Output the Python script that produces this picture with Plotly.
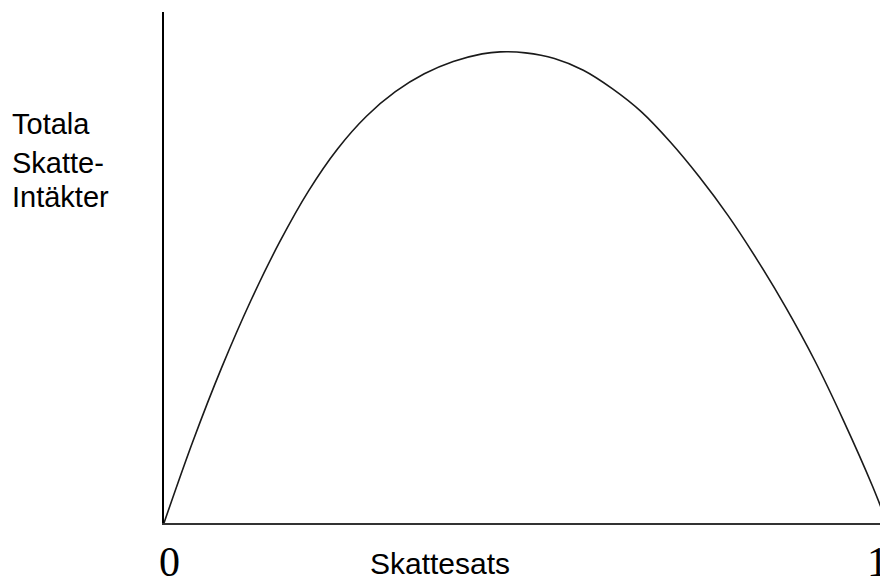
import plotly.graph_objects as go

# Skattesats (tax rate, 0..1) and total tax revenue (relative units, axis top = 100)
tax_rate = [0.0, 0.04, 0.08, 0.12, 0.16, 0.20, 0.24, 0.28, 0.32, 0.36, 0.40, 0.44,
            0.465, 0.50, 0.54, 0.58, 0.62, 0.66, 0.70, 0.74, 0.78, 0.82, 0.86,
            0.90, 0.94, 0.98, 1.0]
revenue = [0.0, 16.0, 30.5, 43.5, 55.0, 65.0, 73.2, 79.6, 84.4, 87.9, 90.3, 91.8,
           92.2, 92.0, 90.9, 88.6, 85.0, 80.5, 74.6, 67.8, 60.2, 51.6, 42.2,
           31.8, 20.0, 7.2, 0.0]

x_label = "Skattesats"
y_label_lines = ["Totala", "Skatte-", "Intäkter"]
x_tick_labels = ["0", "1"]

# the page body adds an 8px offset; target absolute plot box: x 164..887, y 12..523
OFF = 8
PL, PR, PT, PB = 164, 887, 12, 523
W, H = 880, 577
L = PL - OFF
T = PT - OFF
R = W - (PR - OFF)
B = H - (PB - OFF)
pw, ph = PR - PL, PB - PT

def px_x(px):
    return (px - PL) / pw

def px_y(py):
    return (PB - py) / ph

fig = go.Figure()
fig.add_trace(go.Scatter(x=tax_rate, y=revenue, mode="lines", line_shape="spline",
                         line=dict(color="#1a1a1a", width=1.6),
                         hoverinfo="skip", showlegend=False, cliponaxis=False))

annotations = []
annotations.append(dict(text=x_tick_labels[0], xref="paper", yref="paper",
                        x=px_x(169), y=px_y(562), xanchor="center", yanchor="middle",
                        showarrow=False, font=dict(family="Liberation Serif", size=42, color="black")))
annotations.append(dict(text=x_tick_labels[1], xref="paper", yref="paper",
                        x=px_x(877), y=px_y(562), xanchor="center", yanchor="middle",
                        showarrow=False, font=dict(family="Liberation Serif", size=42, color="black")))
annotations.append(dict(text=x_label, xref="paper", yref="paper",
                        x=px_x(440), y=px_y(563), xanchor="center", yanchor="middle",
                        showarrow=False, font=dict(family="Liberation Sans", size=30, color="black")))
for line, cy in zip(y_label_lines, [124, 163, 197]):
    annotations.append(dict(text=line, xref="paper", yref="paper",
                            x=px_x(10), y=px_y(cy), xanchor="left", yanchor="middle",
                            showarrow=False, font=dict(family="Liberation Sans", size=29, color="black")))

fig.update_layout(
    width=W, height=H,
    margin=dict(l=L, r=R, t=T, b=B, pad=0),
    paper_bgcolor="white", plot_bgcolor="white",
    xaxis=dict(range=[0, 1], showgrid=False, zeroline=False, showticklabels=False,
               ticks="", showline=True, linecolor="#333333", linewidth=2, fixedrange=True),
    yaxis=dict(range=[0, 100], showgrid=False, zeroline=False, showticklabels=False,
               ticks="", showline=True, linecolor="black", linewidth=2, fixedrange=True),
    annotations=annotations,
)

fig.write_html("out.html", config={"displayModeBar": False})
